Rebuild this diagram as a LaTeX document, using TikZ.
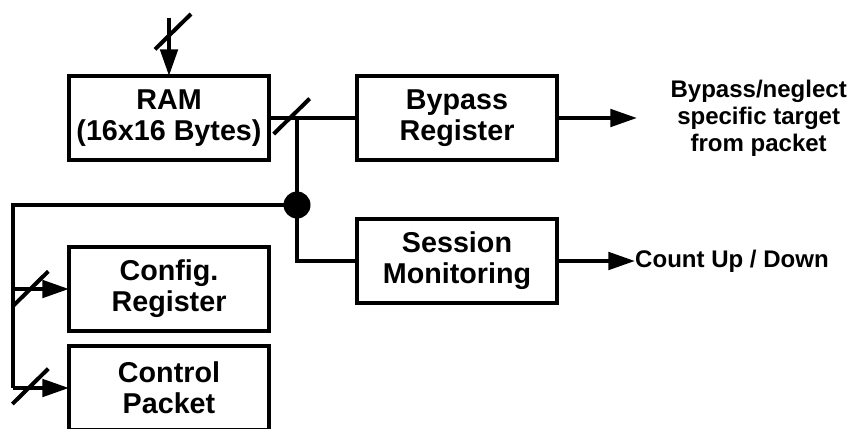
\documentclass[tikz,border=0pt]{standalone}
\usepackage{fontspec}
\setmainfont{Liberation Sans}
\usetikzlibrary{positioning,arrows.meta}

% slash across a bus line
\newcommand{\busmark}[1]{\draw [wire] (#1) ++(-0.54,-0.53) -- ++(1.08,1.06);}

\begin{document}
\begin{tikzpicture}[node distance=1.75cm,
    block/.style={rectangle, draw, line width=0.12cm, minimum width=6cm, minimum height=2.52cm, outer sep=0pt, align=center, font=\fontsize{24.5}{26.5}\selectfont\bfseries},
    note/.style={align=center, inner sep=0pt, font=\fontsize{20.5}{23}\selectfont\bfseries},
    wire/.style={line width=0.12cm},
    arrow/.style={line width=0.12cm, -{Triangle[length=0.8cm, width=0.52cm]}},
    joint/.style={circle, fill, inner sep=0pt, minimum size=0.81cm}]

    \useasboundingbox (0,0) rectangle (25.5,12.84);

    \node [block] (ram) at (5.07,9.30) {RAM\\(16x16 Bytes)};
    \node [block, right=2.64cm of ram] (bypass) {Bypass\\Register};
    \node [block, below=1.77cm of bypass] (session) {Session\\Monitoring};
    \node [block, below=2.61cm of ram] (config) {Config.\\Register};
    \node [block, below=0.45cm of config] (control) {Control\\Packet};

    \coordinate (ramin) at ([yshift=1.74cm]ram.north);
    \coordinate (split) at ([xshift=0.84cm]ram.east);
    \node [joint] (tap) at ([yshift=-2.61cm]split) {};
    \coordinate (bus) at ([xshift=-1.68cm]control.west);
    \coordinate (cfgin) at (bus |- config.west);
    \coordinate (bpout) at ([xshift=2.4cm]bypass.east);
    \coordinate (smout) at ([xshift=2.34cm]session.east);

    \node [note, right=1cm of bpout] (bpnote) {Bypass/neglect\\specific target\\from packet};
    \node [note, right=0pt of smout] (smnote) {Count Up / Down};

    \draw [arrow] (ramin) -- (ram.north);
    \draw [wire] (ram.east) -- (bypass.west);
    \draw [wire] (split) -- (tap.center);
    \draw [wire] (tap.center) |- (session.west);
    \draw [wire] (tap.center) -| (bus);
    \draw [arrow] (cfgin) -- (config.west);
    \draw [arrow] (bus) -- (control.west);
    \draw [arrow] (bypass.east) -- (bpout);
    \draw [arrow] (session.east) -- (smout);

    \busmark{[xshift=0.12cm, yshift=-0.41cm]ramin}
    \busmark{[xshift=-0.16cm, yshift=0.05cm]split}
    \busmark{[xshift=0.52cm]cfgin}
    \busmark{[xshift=0.52cm, yshift=0.05cm]bus}
\end{tikzpicture}
\end{document}
